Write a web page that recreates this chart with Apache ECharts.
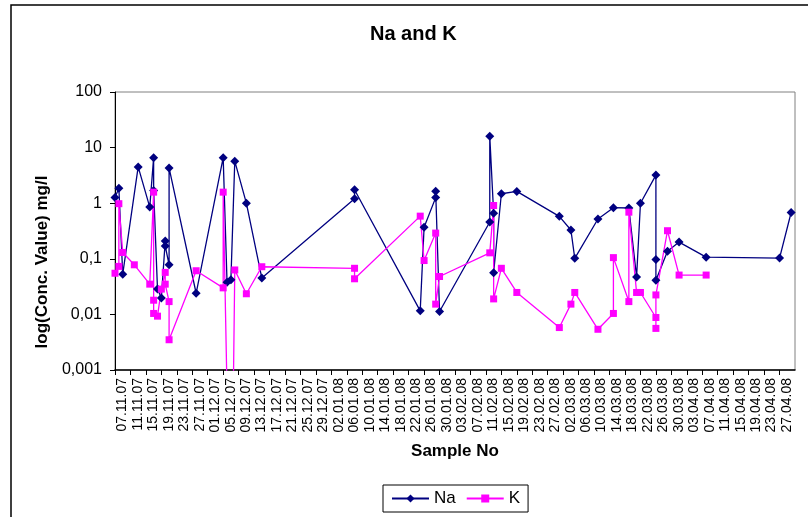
<!DOCTYPE html>
<html>
<head>
<meta charset="utf-8">
<script src="https://cdn.jsdelivr.net/npm/echarts@6/dist/echarts.min.js"></script>
<style>
  html, body { margin: 0; padding: 0; background: #fff; }
  #chart { width: 808px; height: 517px; }
</style>
</head>
<body>
<div id="chart"></div>
<script>
// sample dates (dd.mm.yy) and concentrations
const naDates = ['07.11.07', '08.11.07', '09.11.07', '13.11.07', '16.11.07', '17.11.07', '17.11.07', '18.11.07',
  '19.11.07', '20.11.07', '20.11.07', '21.11.07', '21.11.07', '28.11.07', '05.12.07', '06.12.07', '07.12.07',
  '08.12.07', '11.12.07', '15.12.07', '08.01.08', '08.01.08', '25.01.08', '26.01.08', '29.01.08', '29.01.08',
  '30.01.08', '12.02.08', '12.02.08', '13.02.08', '13.02.08', '15.02.08', '19.02.08', '01.03.08', '04.03.08',
  '05.03.08', '11.03.08', '15.03.08', '19.03.08', '21.03.08', '22.03.08', '26.03.08', '26.03.08', '26.03.08',
  '29.03.08', '01.04.08', '08.04.08', '27.04.08', '30.04.08'];
const naValues = [1.26, 1.85, 0.053, 4.5, 0.85, 6.6, 1.7, 0.0285,
  0.0197, 0.21, 0.17, 0.078, 4.3, 0.024, 6.6, 0.038, 0.042,
  5.7, 1.0, 0.045, 1.2, 1.75, 0.0116, 0.37, 1.26, 1.64,
  0.0113, 0.46, 16, 0.66, 0.056, 1.48, 1.63, 0.58, 0.33,
  0.102, 0.52, 0.83, 0.82, 0.047, 1.0, 3.2, 0.097, 0.041,
  0.137, 0.2, 0.107, 0.103, 0.68];

const kDates = ['07.11.07', '08.11.07', '08.11.07', '09.11.07', '12.11.07', '16.11.07', '17.11.07', '17.11.07',
  '17.11.07', '18.11.07', '19.11.07', '20.11.07', '20.11.07', '21.11.07', '21.11.07', '28.11.07', '05.12.07',
  '05.12.07', '07.12.07', '08.12.07', '11.12.07', '15.12.07', '08.01.08', '08.01.08', '25.01.08', '26.01.08',
  '29.01.08', '29.01.08', '30.01.08', '12.02.08', '13.02.08', '13.02.08', '15.02.08', '19.02.08', '01.03.08',
  '04.03.08', '05.03.08', '11.03.08', '15.03.08', '15.03.08', '19.03.08', '19.03.08', '21.03.08', '22.03.08',
  '26.03.08', '26.03.08', '26.03.08', '29.03.08', '01.04.08', '08.04.08'];
const kValues = [0.055, 0.073, 0.98, 0.13, 0.078, 0.035, 1.58, 0.018,
  0.0104, 0.0093, 0.0285, 0.057, 0.035, 0.017, 0.0035, 0.061, 0.030,
  1.58, 0.0000001, 0.063, 0.0235, 0.072, 0.0675, 0.0437, 0.585, 0.093,
  0.29, 0.0153, 0.048, 0.128, 0.91, 0.019, 0.0675, 0.0248, 0.0058,
  0.0153, 0.0248, 0.0054, 0.0104, 0.105, 0.017, 0.69, 0.0248, 0.0248,
  0.0088, 0.0056, 0.0224, 0.32, 0.051, 0.051];

const yTickLabels = ['0,001', '0,01', '0,1', '1', '10', '100'];
const startDate = '07.11.07';

const FONT = 'Liberation Sans, Arial, sans-serif';
const DAY = 86400000;

function parseDate(s) {
  const p = s.split('.');
  return Date.UTC(2000 + Number(p[2]), Number(p[1]) - 1, Number(p[0]));
}
const t0 = parseDate(startDate);
function toDay(s) {
  return Math.round((parseDate(s) - t0) / DAY);
}
function dayLabel(v) {
  const d = new Date(t0 + Math.round(v) * DAY);
  const pad = n => (n < 10 ? '0' : '') + n;
  return pad(d.getUTCDate()) + '.' + pad(d.getUTCMonth() + 1) + '.' + pad(d.getUTCFullYear() % 100);
}

const naData = naDates.map((d, i) => [toDay(d), naValues[i]]);
const kData = kDates.map((d, i) => [toDay(d), kValues[i]]);

const option = {
  backgroundColor: '#fff',
  animation: false,
  title: {
    text: 'Na and K',
    left: 370,
    top: 24,
    padding: 0,
    textStyle: { fontFamily: FONT, fontSize: 20, fontWeight: 'bold', color: '#000' }
  },
  legend: {
    data: ['Na', 'K'],
    left: 383,
    top: 485,
    padding: [5, 8],
    itemGap: 10,
    itemWidth: 37,
    itemHeight: 10,
    borderColor: '#000',
    borderWidth: 1,
    textStyle: { fontFamily: FONT, fontSize: 17, color: '#000' }
  },
  grid: {
    left: 115, right: 13, top: 92, bottom: 147,
    show: true,
    borderColor: '#808080',
    borderWidth: 1
  },
  xAxis: {
    type: 'value',
    min: 0,
    max: 176,
    interval: 4,
    name: 'Sample No',
    nameLocation: 'middle',
    nameGap: 73,
    nameTextStyle: { fontFamily: FONT, fontSize: 17, fontWeight: 'bold', color: '#000' },
    axisLine: { show: true, lineStyle: { color: '#000', width: 1.5 } },
    axisTick: { show: true, length: 5, lineStyle: { color: '#000' } },
    splitLine: { show: false },
    axisLabel: {
      rotate: 90,
      margin: 8,
      showMaxLabel: false,
      verticalAlign: 'top',
      lineHeight: 15,
      fontFamily: FONT,
      fontSize: 14,
      color: '#000',
      formatter: dayLabel
    }
  },
  yAxis: {
    type: 'log',
    logBase: 10,
    min: 0.001,
    max: 100,
    name: 'log(Conc. Value) mg/l',
    nameLocation: 'middle',
    nameGap: 62,
    nameTextStyle: { fontFamily: FONT, fontSize: 17, fontWeight: 'bold', color: '#000', padding: [0, 62, 0, 0] },
    axisLine: { show: true, lineStyle: { color: '#000', width: 1 } },
    axisTick: { show: true, length: 5, lineStyle: { color: '#000' } },
    splitLine: { show: false },
    axisLabel: {
      margin: 13,
      fontFamily: FONT,
      fontSize: 16,
      color: '#000',
      formatter: v => yTickLabels[Math.round(Math.log10(v)) + 3]
    }
  },
  series: [
    {
      name: 'Na',
      type: 'line',
      data: naData,
      symbol: 'diamond',
      symbolSize: 9,
      clip: true,
      color: '#000080',
      lineStyle: { color: '#000080', width: 1.3 },
      itemStyle: { color: '#000080' }
    },
    {
      name: 'K',
      type: 'line',
      data: kData,
      symbol: 'rect',
      symbolSize: 7,
      clip: true,
      color: '#ff00ff',
      lineStyle: { color: '#ff00ff', width: 1.3 },
      itemStyle: { color: '#ff00ff' }
    }
  ],
  graphic: [
    {
      type: 'rect',
      silent: true,
      shape: { x: 11, y: 5, width: 1000, height: 1000 },
      style: { fill: 'none', stroke: '#000', lineWidth: 1.5 }
    }
  ]
};

const myChart = echarts.init(document.getElementById('chart'), null, { renderer: 'canvas' });
myChart.setOption(option);
</script>
</body>
</html>
